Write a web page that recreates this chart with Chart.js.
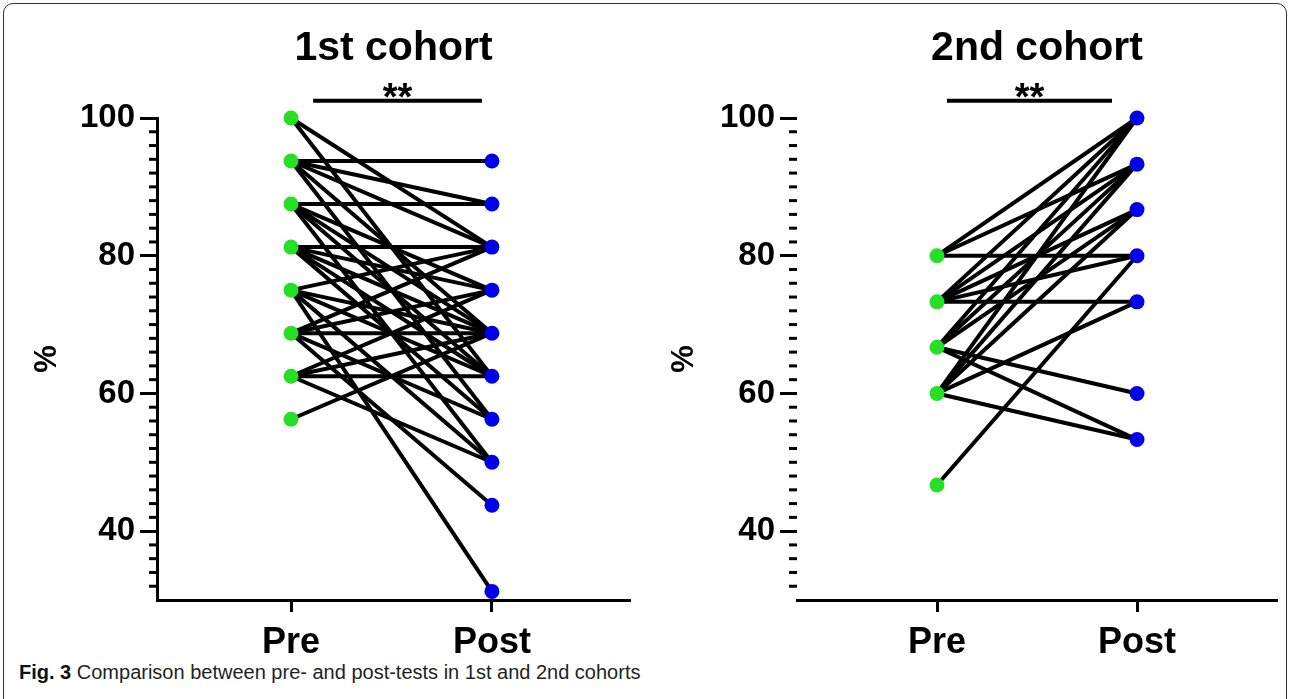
<!DOCTYPE html>
<html><head><meta charset="utf-8">
<script src="https://cdn.jsdelivr.net/npm/chart.js@4.4.1/dist/chart.umd.min.js"></script>
<style>
html,body{margin:0;padding:0;background:#fff;}
#page{position:relative;width:1292px;height:699px;overflow:hidden;background:#fff;}
#frame{position:absolute;left:3px;top:3px;width:1282px;height:760px;border:1.5px solid #333;border-radius:10px;}
canvas{position:absolute;top:0;}
#c1{left:0px;} #c2{left:646px;}
#caption{position:absolute;left:19px;top:661px;font-size:20px;font-family:"Liberation Sans",Arial,sans-serif;color:#231f20;white-space:nowrap;}
#caption b{color:#111;}
</style></head>
<body><div id="page">
<div id="frame"></div>
<canvas id="c1" width="646" height="660"></canvas>
<canvas id="c2" width="646" height="660"></canvas>
<div id="caption"><b>Fig. 3</b> Comparison between pre- and post-tests in 1st and 2nd cohorts</div>
</div>
<script>
// ---------- data ----------
const xLabels = ['Pre', 'Post'];
const yTickValues = [40, 60, 80, 100];
const chartTitles = ['1st cohort', '2nd cohort'];
const sigMarks = ['**', '**'];

// 1st cohort: paired scores per student (pre -> post)
const cohort1Pre  = [100, 100,
  93.75, 93.75, 93.75, 93.75, 93.75,
  87.5, 87.5, 87.5, 87.5, 87.5,
  81.25, 81.25, 81.25, 81.25, 81.25,
  75, 75, 75, 75, 75,
  68.75, 68.75, 68.75, 68.75, 68.75,
  62.5, 62.5, 62.5, 62.5,
  56.25];
const cohort1Post = [81.25, 62.5,
  93.75, 87.5, 81.25, 68.75, 56.25,
  87.5, 75, 68.75, 62.5, 50,
  81.25, 75, 68.75, 62.5, 56.25,
  81.25, 68.75, 62.5, 50, 31.25,
  81.25, 75, 68.75, 56.25, 43.75,
  75, 68.75, 62.5, 50,
  68.75];

// 2nd cohort
const cohort2Pre  = [80, 80, 80,
  73.3, 73.3, 73.3, 73.3, 73.3,
  66.7, 66.7, 66.7, 66.7, 66.7,
  60, 60, 60, 60, 60,
  46.7];
const cohort2Post = [100, 93.3, 80,
  100, 93.3, 86.7, 80, 73.3,
  100, 93.3, 86.7, 60, 53.3,
  100, 93.3, 86.7, 73.3, 53.3,
  80];

// ---------- style ----------
const FONT = '"Liberation Sans",Arial,sans-serif';
const PRE_COLOR = '#26e026';
const POST_COLOR = '#0000e8';

const decorPlugin = {
  id: 'decor',
  afterDraw(chart, args, opts) {
    const { ctx, chartArea, scales: { x, y } } = chart;
    ctx.save();
    ctx.strokeStyle = '#000';
    ctx.fillStyle = '#000';
    ctx.lineWidth = 3;
    for (let v = opts.minorFrom; v <= opts.minorTo; v += opts.minorStep) {
      if (yTickValues.includes(v)) continue;
      const py = y.getPixelForValue(v);
      ctx.beginPath();
      ctx.moveTo(chartArea.left - opts.minorLen, py);
      ctx.lineTo(chartArea.left, py);
      ctx.stroke();
    }
    // title centred over the plot area
    ctx.font = 'bold 41px ' + FONT;
    ctx.textAlign = 'center';
    ctx.textBaseline = 'middle';
    ctx.fillText(opts.title, (chartArea.left + chartArea.right) / 2, opts.titleY);
    // significance bar
    const bx1 = x.getPixelForValue(opts.barFrom);
    const bx2 = x.getPixelForValue(opts.barTo);
    const by = y.getPixelForValue(opts.barY);
    ctx.lineWidth = 4;
    ctx.beginPath(); ctx.moveTo(bx1, by); ctx.lineTo(bx2, by); ctx.stroke();
    ctx.font = 'bold 38px ' + FONT;
    ctx.textBaseline = 'alphabetic';
    ctx.fillText(opts.mark, (bx1 + bx2) / 2, by + 9);
    ctx.restore();
  }
};

function uniq(arr) { return [...new Set(arr)]; }

function makeChart(id, pre, post, title, mark, cfg) {
  const datasets = [];
  pre.forEach((p, i) => {
    datasets.push({
      type: 'line',
      data: [{ x: 0, y: p }, { x: 1, y: post[i] }],
      borderColor: '#000', borderWidth: 4,
      pointRadius: 0, fill: false, order: 2, clip: false
    });
  });
  datasets.push({
    type: 'scatter',
    data: uniq(pre).map(v => ({ x: 0, y: v })),
    backgroundColor: PRE_COLOR, borderColor: PRE_COLOR, borderWidth: 0,
    pointRadius: 7.5, order: 1, clip: false
  });
  datasets.push({
    type: 'scatter',
    data: uniq(post).map(v => ({ x: 1, y: v })),
    backgroundColor: POST_COLOR, borderColor: POST_COLOR, borderWidth: 0,
    pointRadius: 7.5, order: 1, clip: false
  });

  return new Chart(document.getElementById(id), {
    data: { datasets },
    options: {
      responsive: false, animation: false,
      layout: { padding: { left: 0, right: cfg.padRight, top: 118, bottom: 0 } },
      plugins: {
        legend: { display: false }, tooltip: { enabled: false },
        title: { display: false },
        decor: {
          minorFrom: 32, minorTo: 100, minorStep: 2, minorLen: 8,
          barFrom: cfg.barFrom, barTo: cfg.barTo, barY: 102.5, mark,
          title, titleY: 49
        }
      },
      scales: {
        x: {
          type: 'linear', position: 'bottom', min: cfg.xMin, max: cfg.xMax,
          afterBuildTicks: s => { s.ticks = [{ value: 0 }, { value: 1 }]; },
          afterFit: s => { s.height = 60; },
          ticks: {
            callback: (v, i) => xLabels[i], color: '#000', padding: 9,
            font: { family: FONT, size: 36, weight: 'bold' }, maxRotation: 0
          },
          grid: { drawOnChartArea: false, drawTicks: true, tickLength: 12, tickWidth: 3, tickColor: '#000' },
          border: { display: true, color: '#000', width: 3 }
        },
        y: {
          type: 'linear', position: 'left', min: 30, max: 100,
          afterBuildTicks: s => { s.ticks = yTickValues.map(v => ({ value: v })); },
          afterFit: s => { s.width = cfg.yWidth; },
          ticks: {
            callback: v => String(v), color: '#000', padding: 5,
            font: { family: FONT, size: 33, weight: 'bold' }
          },
          grid: { drawOnChartArea: false, drawTicks: true, tickLength: 17, tickWidth: 3, tickColor: '#000' },
          border: { display: cfg.yBorder, color: '#000', width: 3 },
          title: {
            display: true, text: '%', color: '#000',
            font: { family: FONT, size: 31, weight: 'bold' },
            padding: { top: cfg.yTitlePad, bottom: 0 }
          }
        }
      }
    },
    plugins: [decorPlugin]
  });
}

makeChart('c1', cohort1Pre, cohort1Post, chartTitles[0], sigMarks[0], {
  xMin: -0.667, xMax: 1.687, yWidth: 157, padRight: 16, yBorder: true, yTitlePad: 29,
  barFrom: 0.11, barTo: 0.95
});
makeChart('c2', cohort2Pre, cohort2Post, chartTitles[1], sigMarks[1], {
  xMin: -0.70, xMax: 1.70, yWidth: 151, padRight: 15, yBorder: false, yTitlePad: 20,
  barFrom: 0.05, barTo: 0.875
});
</script>
</body></html>
